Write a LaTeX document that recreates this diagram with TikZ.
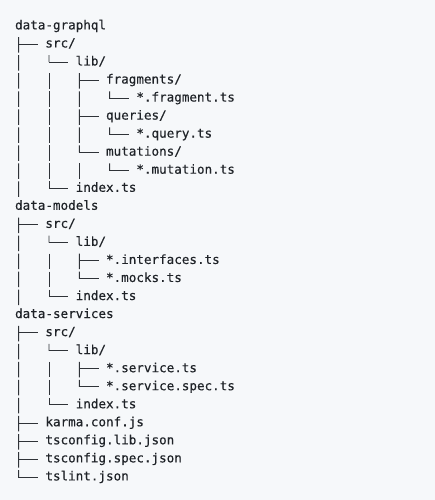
\documentclass[tikz,border=0pt]{standalone}
\usepackage{fontspec}
\newfontfamily\treefont{DejaVu Sans Mono}[FakeBold=0.35]
\definecolor{bg}{HTML}{F6F8FA}
\definecolor{txt}{HTML}{1F2328}
\definecolor{ln}{HTML}{2F3338}
\newcommand\cw{7.58pt}
\newcommand\treeitem[4]{\node[item] (#1) at ({14.9pt+#2*7.58pt},{-29.4pt-#3*18.04pt}) {#4};}
\newcommand\treearm[1]{\draw[arm] ([shift={(-3.5*7.58pt,3.3pt)}]#1.base west) -- ([shift={(-7.58pt,3.3pt)}]#1.base west);}
\newcommand\vstem[5]{\draw[stem] ([shift={(#2*7.58pt,-7.74pt)}]#1.base west) -- ([shift={(#4*7.58pt,#5)}]#3.base west);}
\tikzset{
  item/.style={anchor=base west, inner sep=0pt, font={\treefont\fontsize{12.59pt}{18pt}\selectfont}, text=txt},
  stem/.style={draw=ln, line width=0.9pt, dash pattern=on 15.5pt off 2.54pt},
  arm/.style={draw=ln, line width=0.9pt, line cap=rect}
}
\begin{document}
\begin{tikzpicture}
\path[fill=bg] (0pt,0pt) rectangle (435pt,-500pt);
\useasboundingbox (0pt,0pt) rectangle (435pt,-500pt);
% data-graphql
\treeitem{g}{0}{0}{data-graphql}
\treeitem{gSrc}{4}{1}{src/}
\treeitem{gLib}{8}{2}{lib/}
\treeitem{gFrag}{12}{3}{fragments/}
\treeitem{gFragTs}{16}{4}{*.fragment.ts}
\treeitem{gQue}{12}{5}{queries/}
\treeitem{gQueTs}{16}{6}{*.query.ts}
\treeitem{gMut}{12}{7}{mutations/}
\treeitem{gMutTs}{16}{8}{*.mutation.ts}
\treeitem{gIndex}{8}{9}{index.ts}
% data-models
\treeitem{m}{0}{10}{data-models}
\treeitem{mSrc}{4}{11}{src/}
\treeitem{mLib}{8}{12}{lib/}
\treeitem{mInt}{12}{13}{*.interfaces.ts}
\treeitem{mMocks}{12}{14}{*.mocks.ts}
\treeitem{mIndex}{8}{15}{index.ts}
% data-services
\treeitem{s}{0}{16}{data-services}
\treeitem{sSrc}{4}{17}{src/}
\treeitem{sLib}{8}{18}{lib/}
\treeitem{sServ}{12}{19}{*.service.ts}
\treeitem{sSpec}{12}{20}{*.service.spec.ts}
\treeitem{sIndex}{8}{21}{index.ts}
\treeitem{sKarma}{4}{22}{karma.conf.js}
\treeitem{sTsLib}{4}{23}{tsconfig.lib.json}
\treeitem{sTsSpec}{4}{24}{tsconfig.spec.json}
\treeitem{sTslint}{4}{25}{tslint.json}
% vertical stems
\vstem{g}{0.5}{gIndex}{-7.5}{-5.2pt}
\vstem{m}{0.5}{mIndex}{-7.5}{-5.2pt}
\vstem{s}{0.5}{sTslint}{-3.5}{3.3pt}
\vstem{gSrc}{0.5}{gLib}{-3.5}{3.3pt}
\vstem{gLib}{-3.5}{gIndex}{-3.5}{3.3pt}
\vstem{mSrc}{0.5}{mLib}{-3.5}{3.3pt}
\vstem{mLib}{-3.5}{mIndex}{-3.5}{3.3pt}
\vstem{sSrc}{0.5}{sLib}{-3.5}{3.3pt}
\vstem{sLib}{-3.5}{sIndex}{-3.5}{3.3pt}
\vstem{gLib}{0.5}{gMut}{-3.5}{3.3pt}
\vstem{gMut}{-3.5}{gMutTs}{-7.5}{-5.2pt}
\vstem{mLib}{0.5}{mMocks}{-3.5}{3.3pt}
\vstem{sLib}{0.5}{sSpec}{-3.5}{3.3pt}
\vstem{gFrag}{0.5}{gFragTs}{-3.5}{3.3pt}
\vstem{gQue}{0.5}{gQueTs}{-3.5}{3.3pt}
\vstem{gMut}{0.5}{gMutTs}{-3.5}{3.3pt}
% horizontal arms
\treearm{gSrc}\treearm{gLib}\treearm{gFrag}\treearm{gFragTs}\treearm{gQue}
\treearm{gQueTs}\treearm{gMut}\treearm{gMutTs}\treearm{gIndex}
\treearm{mSrc}\treearm{mLib}\treearm{mInt}\treearm{mMocks}\treearm{mIndex}
\treearm{sSrc}\treearm{sLib}\treearm{sServ}\treearm{sSpec}\treearm{sIndex}
\treearm{sKarma}\treearm{sTsLib}\treearm{sTsSpec}\treearm{sTslint}
\end{tikzpicture}
\end{document}
